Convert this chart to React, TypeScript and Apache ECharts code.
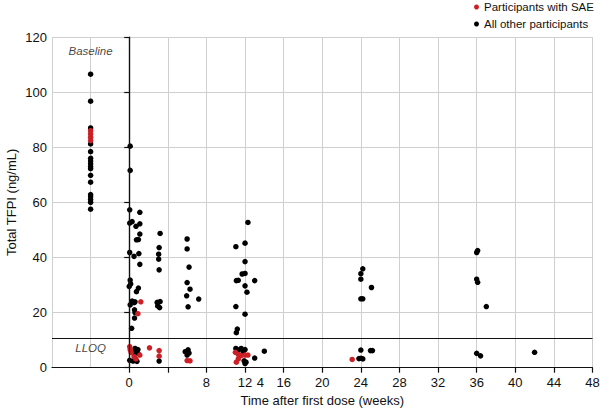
import React, { useEffect, useRef } from "react";
import * as echarts from "echarts";

const saeLabel = "Participants with SAE";
const otherLabel = "All other participants";

// [week, TFPI ng/mL]
const saePoints: number[][] = [
  [-4, 86], [-4, 84.8], [-4, 83.6], [-4, 82.4],
  [1.2, 23.9], [0.9, 19.6],
  [0.05, 7.6], [0.1, 6.5], [0.2, 5.5], [0.5, 4], [0.7, 3.2], [1.1, 4.6],
  [2.1, 7.2], [3.1, 6.2], [3.1, 4.2],
  [6.0, 2.6], [6.3, 2.5],
  [11.0, 5.6], [11.3, 4.8], [11.6, 4.4], [12.0, 4.6], [12.3, 4.6], [11.3, 3.2], [11.1, 2.0],
  [23.1, 3.0],
];

const otherPoints: number[][] = [
  [-4, 106.5], [-4, 96.7], [-4, 87], [-4, 81.2], [-4, 78.4], [-4, 76], [-4, 75], [-4, 74],
  [-4, 73], [-4, 72.2], [-4, 69.8], [-4, 67.3], [-4, 62.8], [-4, 62], [-4, 61], [-4, 60], [-4, 57.5],
  [0.1, 80.4], [0.1, 71.6],
  [0.05, 57.3], [1.1, 56.4], [0.05, 52.5], [0.3, 53], [1.1, 52.2], [0.7, 51.3], [1.1, 48.5],
  [0.75, 46.4], [0.95, 46.5], [0.05, 41.8], [1.0, 41.4], [0.5, 40.4], [1.1, 37.5], [0.1, 31.8],
  [0.15, 30.4], [0, 29.5], [0.95, 28.9], [0.75, 27.6], [0.3, 24.2], [0.5, 23.6], [0.1, 22.8],
  [0.6, 23.9], [0.55, 21], [0.6, 20], [0.55, 18], [0.25, 14.3],
  [0.6, 7.0], [0.9, 6.6], [0.5, 5.5], [0.9, 5.2], [0.05, 2.7], [0.4, 2.4], [0.8, 2.3], [3.1, 2.4],
  [3.2, 48.7], [3.1, 43.6], [3.05, 41.2], [3.05, 39.4], [3.1, 35.5], [2.9, 23.7], [3.2, 24],
  [2.95, 22.4], [3.15, 21.8],
  [6.0, 46.7], [6.0, 43.1], [6.2, 36.5], [6.0, 30.9], [6.3, 28.5], [5.95, 26.1], [6.1, 22.1], [7.2, 24.9],
  [6.1, 6.5], [5.8, 5.8], [6.2, 5.3], [6.0, 4.6],
  [12.3, 52.7], [12.0, 45.2], [11.05, 43.9], [12.0, 38.5], [12.0, 34.2], [11.7, 34], [11.1, 31.6],
  [11.3, 31.7], [13.0, 31.6], [12.0, 29.7], [12.2, 27.4], [11.05, 22.2], [12.0, 19.4], [11.2, 14],
  [11.1, 12.7],
  [11.05, 7], [11.6, 7], [11.3, 6.4], [12.0, 6.6], [11.8, 5.8], [11.9, 2.5], [12.0, 1.5], [12.1, 2.0],
  [13.0, 3.5], [14.0, 6.0],
  [24.2, 35.9], [24.0, 34.1], [24.0, 32.1], [25.1, 29.1], [24.0, 25], [24.2, 25], [24.0, 6.4],
  [25.0, 6.2], [25.2, 6.2], [23.8, 3.3], [24.0, 3.4], [24.2, 3.2],
  [36.1, 42.5], [36.0, 41.8], [36.0, 32.1], [36.1, 31], [37.0, 22.2], [36.0, 5.2], [36.4, 4.3],
  [42.0, 5.6],
];

const lloq = 10.7;
const doseWeek = 0;
const xTickValues = [0, 4, 8, 12, 16, 20, 24, 28, 32, 36, 40, 44, 48];
const xLabelValues = [0, 8, 12, 13.6, 16, 20, 24, 28, 32, 36, 40, 44, 48];
const xLabelTexts = ["0", "8", "12", "4", "16", "20", "24", "28", "32", "36", "40", "44", "48"];
const annotations = [
  { value: [-4, 114.8], text: "Baseline" },
  { value: [-4, 7.2], text: "LLOQ" },
];

const FONT = "'Liberation Sans', Arial, Helvetica, sans-serif";

export default function App() {
  const ref = useRef<HTMLDivElement>(null);
  useEffect(() => {
    if (!ref.current) return;
    const chart = echarts.init(ref.current, undefined, { renderer: "svg" });
    const xRange = { min: -8, max: 48 };
    chart.setOption({
      animation: false,
      textStyle: { fontFamily: FONT },
      legend: {
        orient: "vertical",
        left: 469,
        top: -4,
        itemWidth: 5,
        itemHeight: 5,
        itemGap: 5,
        icon: "circle",
        textStyle: { fontSize: 11.5, color: "#111", fontFamily: FONT },
        data: [saeLabel, otherLabel],
      },
      grid: { left: 52, right: 7.5, top: 37, bottom: 43.3, containLabel: false, outerBoundsMode: "none" },
      xAxis: [
        {
          type: "value",
          ...xRange,
          interval: 4,
          position: "bottom",
          axisLine: { show: true, lineStyle: { color: "#111", width: 1.2 } },
          axisTick: { show: false },
          axisLabel: { show: false },
          splitLine: { show: true, lineStyle: { color: "#cfcfcf", width: 1 } },
          name: "Time after first dose (weeks)",
          nameLocation: "middle",
          nameGap: 26,
          nameTextStyle: { fontSize: 13, color: "#111", fontFamily: FONT },
        },
        {
          type: "value",
          ...xRange,
          interval: 4,
          position: "bottom",
          axisLine: { show: false },
          axisTick: {
            show: true,
            length: 5,
            customValues: xTickValues,
            lineStyle: { color: "#111", width: 1.2 },
          },
          axisLabel: {
            show: true,
            customValues: xLabelValues,
            margin: 8,
            fontSize: 13,
            color: "#111",
            fontFamily: FONT,
            formatter: (v: number) => {
              const i = xLabelValues.findIndex((x) => Math.abs(x - v) < 0.01);
              return i >= 0 ? xLabelTexts[i] : "";
            },
          },
          splitLine: { show: false },
        },
      ],
      yAxis: {
        type: "value",
        min: 0,
        max: 120,
        interval: 20,
        axisLine: { show: true, lineStyle: { color: "#111", width: 1.2 } },
        axisTick: { show: true, length: 5, lineStyle: { color: "#111", width: 1.2 } },
        axisLabel: { fontSize: 13, color: "#111", margin: 5, fontFamily: FONT },
        splitLine: { show: true, lineStyle: { color: "#cfcfcf", width: 1 } },
        name: "Total TFPI (ng/mL)",
        nameLocation: "middle",
        nameGap: 34,
        nameMoveOverlap: false,
        nameTextStyle: { fontSize: 13, color: "#111", fontFamily: FONT },
      },
      series: [
        {
          name: "annotations",
          type: "scatter",
          xAxisIndex: 0,
          symbolSize: 0,
          silent: true,
          data: annotations.map((a) => ({ value: a.value, name: a.text })),
          label: {
            show: true,
            position: "inside",
            formatter: (p: any) => p.name,
            fontStyle: "italic",
            fontSize: 11.5,
            color: "#111",
            fontFamily: FONT,
          },
          markLine: {
            silent: true,
            symbol: "none",
            label: { show: false },
            lineStyle: { color: "#111", width: 1.2, type: "solid" },
            data: [{ xAxis: doseWeek }, { yAxis: lloq }],
          },
        },
        {
          name: otherLabel,
          type: "scatter",
          xAxisIndex: 0,
          symbolSize: 5.5,
          itemStyle: { color: "#000", opacity: 1 },
          data: otherPoints,
        },
        {
          name: saeLabel,
          type: "scatter",
          xAxisIndex: 0,
          symbolSize: 5.5,
          itemStyle: { color: "#cc1f26", opacity: 1 },
          data: saePoints,
        },
      ],
    });
    return () => chart.dispose();
  }, []);
  return <div ref={ref} style={{ width: 600, height: 411, position: "absolute", left: 0, top: 0 }} />;
}
